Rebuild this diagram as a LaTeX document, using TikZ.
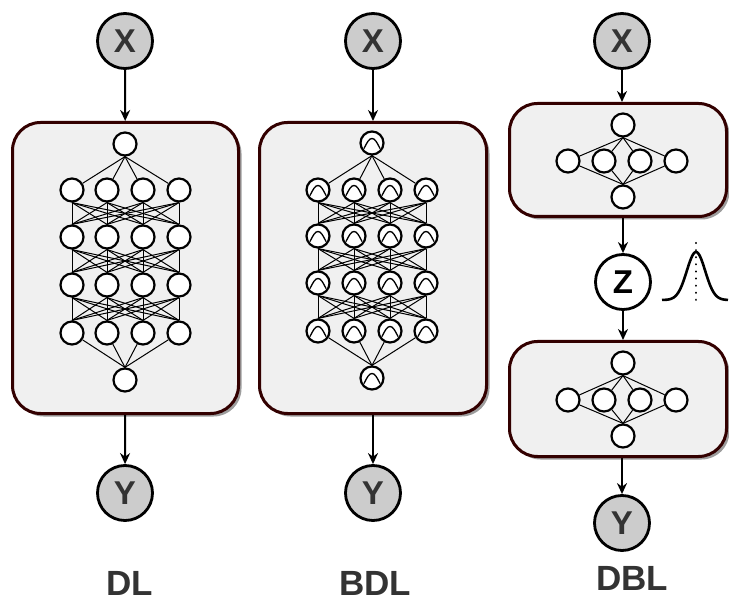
\documentclass[tikz,border=0pt]{standalone}
\usepackage{fontspec}
\setmainfont{Liberation Sans}
\usetikzlibrary{arrows.meta,shadows}

\definecolor{boxedge}{RGB}{51,0,0}
\definecolor{boxfill}{RGB}{240,240,240}
\definecolor{varfill}{RGB}{204,204,204}
\definecolor{textgray}{RGB}{51,51,51}

\tikzset{
  x=1pt, y=-1pt,
  var/.style={circle, draw, line width=2.8pt, fill=varfill, minimum size=55pt,
    inner sep=0pt, text=textgray, font=\fontsize{33}{33}\selectfont\bfseries},
  latent/.style={var, fill=white, text=black},
  neuron/.style={circle, draw, line width=2.2pt, fill=white, minimum size=23pt, inner sep=0pt},
  bneuron/.style={neuron, path picture={
    \draw[line width=1.3pt]
      ([xshift=-8pt,yshift=-5.5pt]path picture bounding box.center)
      .. controls +(3pt,6pt) and +(-3pt,0pt) .. ([yshift=4.5pt]path picture bounding box.center)
      .. controls +(3pt,0pt) and +(-3pt,6pt) .. ([xshift=8pt,yshift=-5.5pt]path picture bounding box.center);}},
  netbox/.style={draw=boxedge, line width=3pt, fill=boxfill, rounded corners=28pt,
    inner sep=0pt, drop shadow={shadow xshift=3pt, shadow yshift=-3pt, fill=black!55, opacity=0.7}},
  link/.style={line width=1pt},
  arr/.style={line width=2pt, -{Stealth[length=11pt,width=10pt]}},
  tag/.style={text=textgray, font=\fontsize{35}{35}\selectfont\bfseries},
}

\begin{document}
\begin{tikzpicture}
\useasboundingbox (0,0) rectangle (729,604);

% ---------------- DL ----------------
\node[netbox, minimum width=226pt, minimum height=291pt] (dlbox) at (125.5,268) {};
\foreach \c/\x in {1/72,2/107,3/143,4/179}
  \foreach \r/\y in {1/190,2/237,3/285,4/333}
    \node[neuron] (dl-\r-\c) at (\x,\y) {};
\node[neuron] (dl-t) at (125,144) {};
\node[neuron] (dl-b) at (125,380) {};
\foreach \c in {1,...,4} {
  \draw[link] (dl-t.south) -- (dl-1-\c);
  \draw[link] (dl-4-\c) -- (dl-b.north);
}
\foreach \r/\s in {1/2,2/3,3/4}
  \foreach \a in {1,...,4}
    \foreach \b in {1,...,4}
      \draw[link] (dl-\r-\a.south) -- (dl-\s-\b.north);

\node[var] (dlx) at (125,41) {X};
\node[var] (dly) at (125,493) {Y};
\draw[arr] (dlx) -- (dlbox);
\draw[arr] (dlbox) -- (dly);
\node[tag] (dltag) at (130,583) {DL};

% ---------------- BDL ----------------
\node[netbox, minimum width=227pt, minimum height=291pt] (bdlbox) at (373,268) {};
\foreach \c/\x in {1/318,2/354,3/390,4/426}
  \foreach \r/\y in {1/190,2/236,3/283,4/331}
    \node[bneuron] (bdl-\r-\c) at (\x,\y) {};
\node[bneuron] (bdl-t) at (372,143) {};
\node[bneuron] (bdl-b) at (372,378) {};
\foreach \c in {1,...,4} {
  \draw[link] (bdl-t.south) -- (bdl-1-\c);
  \draw[link] (bdl-4-\c) -- (bdl-b.north);
}
\foreach \r/\s in {1/2,2/3,3/4}
  \foreach \a in {1,...,4}
    \foreach \b in {1,...,4}
      \draw[link] (bdl-\r-\a.south) -- (bdl-\s-\b.north);

\node[var] (bdlx) at (373,41) {X};
\node[var] (bdly) at (373,493) {Y};
\draw[arr] (bdlx) -- (bdlbox);
\draw[arr] (bdlbox) -- (bdly);
\node[tag] (bdltag) at (375,583) {BDL};

% ---------------- DBL ----------------
\node[netbox, minimum width=217pt, minimum height=113pt] (encbox) at (618,160) {};
\node[netbox, minimum width=217pt, minimum height=115pt] (decbox) at (618,399) {};

\foreach \c/\x in {1/568,2/604,3/640,4/676} {
  \node[neuron] (enc-\c) at (\x,161) {};
  \node[neuron] (dec-\c) at (\x,400) {};
}
\node[neuron] (enc-t) at (623,125) {};
\node[neuron] (enc-b) at (623,197) {};
\node[neuron] (dec-t) at (623,363) {};
\node[neuron] (dec-b) at (623,436) {};
\foreach \c in {1,...,4} {
  \draw[link] (enc-t.south) -- (enc-\c);
  \draw[link] (enc-\c) -- (enc-b.north);
  \draw[link] (dec-t.south) -- (dec-\c);
  \draw[link] (dec-\c) -- (dec-b.north);
}

\node[var] (dblx) at (622,41) {X};
\node[latent] (dblz) at (623,282) {Z};
\node[var] (dbly) at (622,523) {Y};
\draw[arr] (dblx) -- (dblx |- encbox.north);
\draw[arr] (dblz |- encbox.south) -- (dblz);
\draw[arr] (dblz) -- (dblz |- decbox.north);
\draw[arr] (dbly |- decbox.south) -- (dbly);
\node[tag] (dbltag) at (632,578) {DBL};

% prior density beside Z
\draw[line width=2.6pt] plot[domain=662:728, samples=80, smooth]
  (\x, {300 - 48*exp(-((\x-696)/13)^2)});
\draw[line width=2.2pt, line cap=round, dash pattern=on 0.1pt off 7pt] (696,243) -- (696,300);
\end{tikzpicture}
\end{document}
